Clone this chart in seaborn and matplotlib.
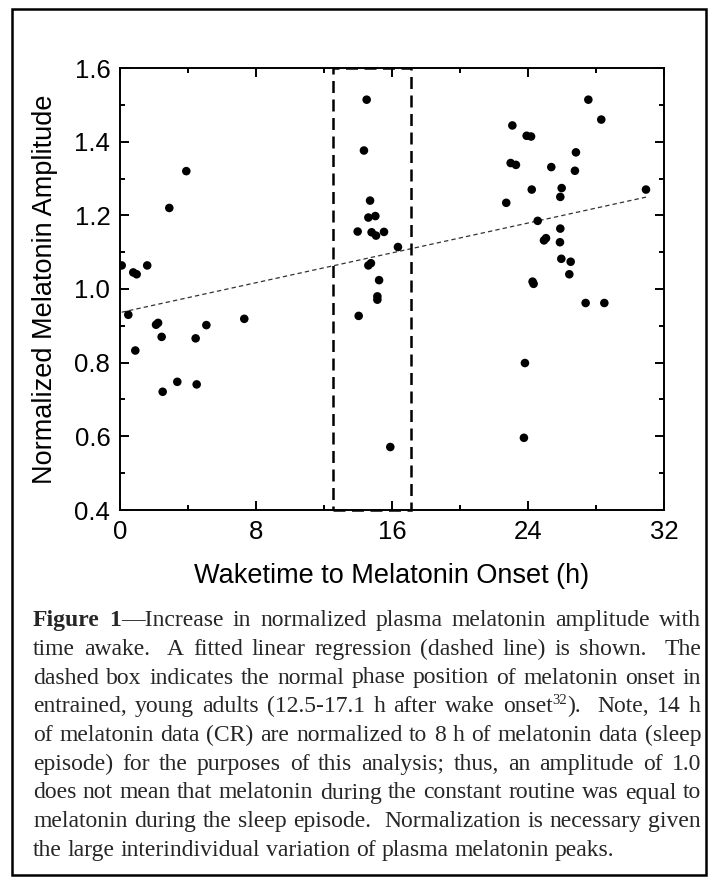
import numpy as np
import pandas as pd
import matplotlib
matplotlib.use("Agg")
import matplotlib.pyplot as plt
from matplotlib.patches import Rectangle
from matplotlib.ticker import MultipleLocator
import seaborn as sns

W, H = 710, 884

# hours from wake to melatonin onset, normalized amplitude
wake_to_onset = [
    0.1, 0.78, 0.98, 1.6, 0.49, 0.9, 2.12, 2.24, 2.45, 2.51, 3.37, 4.45, 4.51, 5.08, 7.31, 2.9, 3.9,
    14.51, 14.35, 14.71, 14.61, 15.02, 13.98, 14.8, 15.06, 15.53, 16.35, 14.61, 14.76, 15.24, 15.14,
    15.14, 14.04, 15.9,
    27.55, 28.31, 23.08, 23.92, 24.18, 26.82, 22.98, 23.29, 25.37, 26.76, 24.22, 25.98, 25.9, 30.94,
    22.72, 24.57, 25.9, 24.94, 25.06, 25.88, 25.96, 26.51, 26.43, 24.27, 24.33, 27.39, 28.49, 23.82,
    23.76,
]
amplitude = [
    1.064, 1.045, 1.040, 1.064, 0.930, 0.833, 0.903, 0.908, 0.870, 0.721, 0.748, 0.866, 0.741, 0.902,
    0.919, 1.220, 1.320,
    1.514, 1.376, 1.240, 1.194, 1.198, 1.156, 1.154, 1.145, 1.155, 1.114, 1.064, 1.070, 1.024, 0.980,
    0.971, 0.927, 0.571,
    1.514, 1.460, 1.444, 1.416, 1.414, 1.371, 1.342, 1.337, 1.331, 1.321, 1.270, 1.274, 1.250, 1.270,
    1.234, 1.185, 1.164, 1.132, 1.138, 1.127, 1.082, 1.074, 1.040, 1.020, 1.014, 0.962, 0.962, 0.799,
    0.596,
]

NORMAL_ONSET = (12.5, 17.1)  # dashed box, h after wake
X_TICKS = [0, 8, 16, 24, 32]
Y_TICKS = [0.4, 0.6, 0.8, 1.0, 1.2, 1.4, 1.6]

CAPTION = [
    "*Figure 1*—Increase in normalized plasma melatonin amplitude with",
    "time awake.  A fitted linear regression (dashed line) is shown.  The",
    "dashed box indicates the normal phase position of melatonin onset in",
    "entrained, young adults (12.5-17.1 h after wake onset^32^).  Note, 14 h",
    "of melatonin data (CR) are normalized to 8 h of melatonin data (sleep",
    "episode) for the purposes of this analysis; thus, an amplitude of 1.0",
    "does not mean that melatonin during the constant routine was equal to",
    "melatonin during the sleep episode.  Normalization is necessary given",
    "the large interindividual variation of plasma melatonin peaks.",
]


def parse_line(line):
    # words -> runs of (text, bold, superscript); '*' toggles bold, '^' superscript
    words, runs, buf = [], [], ""
    bold = sup = False
    for ch in line:
        if ch in "*^ ":
            if buf:
                runs.append((buf, bold, sup))
                buf = ""
            if ch == "*":
                bold = not bold
            elif ch == "^":
                sup = not sup
            else:
                words.append(runs)
                runs = []
        else:
            buf += ch
    if buf:
        runs.append((buf, bold, sup))
    words.append(runs)
    return words


def draw_caption(fig, lines, x0, x1, base0, step, size):
    renderer = fig.canvas.get_renderer()
    for i, line in enumerate(lines):
        base = base0 + i * step
        placed = []
        for runs in parse_line(line):
            items = []
            for text, bold, sup in runs:
                t = fig.text(0, 0, text, family="Liberation Serif",
                             fontsize=size * 0.62 if sup else size,
                             fontweight="bold" if bold else "normal", va="baseline", ha="left")
                w = t.get_window_extent(renderer).width
                items.append((t, w, sup))
            placed.append(items)
        widths = [sum(w for _, w, _ in items) for items in placed]
        n_gaps = len(placed) - 1
        if i < len(lines) - 1:
            gap = (x1 - x0 - sum(widths)) / n_gaps
        else:
            gap = size * 100 / 72 * 0.25
        x = x0
        for items, wsum in zip(placed, widths):
            xr = x
            for t, w, sup in items:
                y = base - (size * 100 / 72 * 0.36 if sup else 0)
                t.set_position((xr / W, 1 - y / H))
                xr += w
            x += wsum + gap


sns.set_style("ticks")
plt.rcParams["font.family"] = ["Liberation Sans", "DejaVu Sans"]

df = pd.DataFrame({"onset": wake_to_onset, "amp": amplitude})

fig = plt.figure(figsize=(W / 100, H / 100), dpi=100)
ax = fig.add_axes([120 / W, 1 - 510 / H, 544 / W, 442 / H])

sns.regplot(data=df, x="onset", y="amp", scatter=False, ci=None, truncate=True, ax=ax,
            line_kws={"color": "#333333", "lw": 0.9, "ls": (0, (3.5, 2.5))})
sns.scatterplot(data=df, x="onset", y="amp", color="black", s=38, edgecolor="none", ax=ax, zorder=3)

ax.add_patch(Rectangle((NORMAL_ONSET[0], Y_TICKS[0]), NORMAL_ONSET[1] - NORMAL_ONSET[0],
                       Y_TICKS[-1] - Y_TICKS[0], fill=False, ec="black", lw=1.8,
                       ls=(0, (4.8, 2.6)), clip_on=False, zorder=4))

ax.set_xlim(X_TICKS[0], X_TICKS[-1])
ax.set_ylim(Y_TICKS[0], Y_TICKS[-1])
ax.set_xticks(X_TICKS)
ax.set_yticks(Y_TICKS)
ax.set_xticklabels([str(v) for v in X_TICKS])
ax.set_yticklabels([f"{v:.1f}" for v in Y_TICKS])
ax.xaxis.set_minor_locator(MultipleLocator(4))
ax.yaxis.set_minor_locator(MultipleLocator(0.1))
ax.tick_params(which="both", direction="in", top=True, right=True, width=1.4, color="black")
ax.tick_params(which="major", length=6.5, labelsize=18.5, labelcolor="black")
ax.tick_params(axis="x", which="major", pad=7)
ax.tick_params(axis="y", which="major", pad=7)
ax.tick_params(which="minor", length=3.6)
for sp in ax.spines.values():
    sp.set_linewidth(1.4)
    sp.set_color("black")

ax.set_xlabel("Waketime to Melatonin Onset (h)", fontsize=19.5, labelpad=14, color="black")
ax.set_ylabel("Normalized Melatonin Amplitude", fontsize=19.5, labelpad=12, color="black")

# outer frame of the figure panel
fig.add_artist(Rectangle((12 / W, 1 - 875 / H), 694 / W, 866 / H, transform=fig.transFigure,
                         fill=False, ec="black", lw=1.8))

draw_caption(fig, CAPTION, 33, 701, 626, 28.75, 17)

fig.savefig("out.png", dpi=100)
